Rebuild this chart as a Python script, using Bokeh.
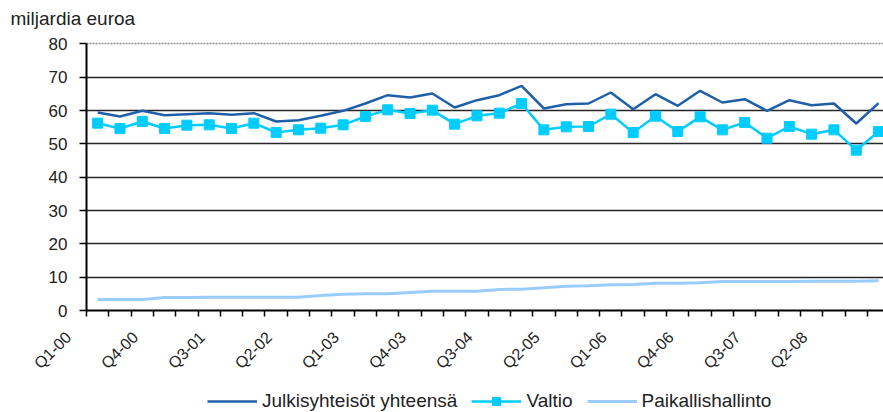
import math
from bokeh.plotting import figure
from bokeh.models import Range1d, FixedTicker, Legend, LegendItem, Grid, ColumnDataSource
from bokeh.embed import file_html
from bokeh.resources import INLINE

# ---- data -------------------------------------------------------------
quarters = ["Q1-00", "Q2-00", "Q3-00", "Q4-00", "Q1-01", "Q2-01", "Q3-01", "Q4-01",
            "Q1-02", "Q2-02", "Q3-02", "Q4-02", "Q1-03", "Q2-03", "Q3-03", "Q4-03",
            "Q1-04", "Q2-04", "Q3-04", "Q4-04", "Q1-05", "Q2-05", "Q3-05", "Q4-05",
            "Q1-06", "Q2-06", "Q3-06", "Q4-06", "Q1-07", "Q2-07", "Q3-07", "Q4-07",
            "Q1-08", "Q2-08", "Q3-08", "Q4-08"]
tick_labels = ["Q1-00", "Q4-00", "Q3-01", "Q2-02", "Q1-03", "Q4-03",
               "Q3-04", "Q2-05", "Q1-06", "Q4-06", "Q3-07", "Q2-08"]

julkisyhteisot = [59.4, 58.2, 59.9, 58.6, 58.9, 59.2, 58.7, 59.2, 56.7, 57.1, 58.4, 59.9,
                  62.1, 64.6, 63.9, 65.1, 60.9, 63.1, 64.6, 67.4, 60.6, 61.9, 62.1, 65.4,
                  60.4, 64.9, 61.4, 65.9, 62.4, 63.4, 59.9, 63.1, 61.6, 62.1, 56.1, 62.2]
valtio = [56.2, 54.6, 56.7, 54.6, 55.6, 55.7, 54.6, 56.2, 53.4, 54.2, 54.7, 55.7,
          58.2, 60.2, 59.1, 60.1, 55.9, 58.4, 59.2, 62.1, 54.2, 55.1, 55.2, 58.9,
          53.4, 58.3, 53.7, 58.1, 54.2, 56.4, 51.7, 55.2, 52.9, 54.2, 48.1, 53.7]
paikallishallinto = [3.3, 3.3, 3.3, 3.9, 3.9, 4.0, 4.0, 4.0, 4.0, 4.0, 4.5, 4.9,
                     5.0, 5.0, 5.4, 5.8, 5.8, 5.8, 6.3, 6.4, 6.8, 7.3, 7.4, 7.7,
                     7.8, 8.2, 8.2, 8.3, 8.7, 8.7, 8.7, 8.7, 8.8, 8.8, 8.8, 8.9]
y_ticks = [0, 10, 20, 30, 40, 50, 60, 70, 80]

# ---- derived positions ------------------------------------------------
xs = list(range(len(quarters)))
boundaries = [i - 0.5 for i in range(len(quarters) + 1)]
LABEL_SHIFT = 1.3125
label_pos = [quarters.index(t) - LABEL_SHIFT for t in tick_labels]
first_x, last_x = xs[0] - 0.5, xs[-1] + 1.0

src = ColumnDataSource(dict(x=xs, j=julkisyhteisot, v=valtio, p=paikallishallinto))

FONT = "Liberation Sans"
TXT = "#222222"

p = figure(width=883, height=412,
           x_range=Range1d(-3.458, 35.22), y_range=Range1d(-30.6, 84.0),
           output_backend="svg", toolbar_location=None,
           min_border_left=20, min_border_right=0, min_border_top=30, min_border_bottom=0)
p.outline_line_color = None

# title
p.title.text = "miljardia euroa"
p.title.align = "left"
p.title.offset = -10
p.title.text_font = FONT
p.title.text_font_size = "19px"
p.title.text_font_style = "normal"
p.title.text_color = TXT
p.title.standoff = 3

# grids
p.xgrid.visible = False
g = p.ygrid[0]
g.ticker = FixedTicker(ticks=y_ticks[1:-1])
g.cross_bounds = (first_x, last_x)
g.grid_line_color = "#262626"
g.grid_line_width = 1.7
g0 = Grid(dimension=1, ticker=FixedTicker(ticks=y_ticks[:1]), cross_bounds=(first_x, last_x),
          grid_line_color="black", grid_line_width=2)
g80 = Grid(dimension=1, ticker=FixedTicker(ticks=y_ticks[-1:]), cross_bounds=(first_x, last_x),
           grid_line_color="#8a8a8a", grid_line_width=1.5, grid_line_dash="2 1")
p.add_layout(g0, "center")
p.add_layout(g80, "center")

# y axis at the category boundary
ya = p.yaxis[0]
ya.fixed_location = first_x
ya.bounds = (y_ticks[0], y_ticks[-1])
ya.ticker = FixedTicker(ticks=y_ticks)
ya.major_tick_out = 7
ya.major_tick_in = 0
ya.minor_tick_out = 0
ya.minor_tick_in = 0
ya.major_tick_line_color = "black"
ya.major_tick_line_width = 1.5
ya.axis_line_color = "black"
ya.axis_line_width = 2
ya.major_label_standoff = 12
ya.major_label_text_font = FONT
ya.major_label_text_font_size = "17px"
ya.major_label_text_color = TXT

# x axis at y = 0: tick marks between categories, rotated labels
xa = p.xaxis[0]
xa.fixed_location = 0
xa.ticker = FixedTicker(ticks=label_pos, minor_ticks=boundaries)
xa.major_label_overrides = {pos: t for pos, t in zip(label_pos, tick_labels)}
xa.axis_line_color = None
xa.major_tick_line_color = None
xa.major_tick_out = 0
xa.major_tick_in = 0
xa.minor_tick_out = 6
xa.minor_tick_in = 0
xa.minor_tick_line_color = "black"
xa.minor_tick_line_width = 1.5
xa.major_label_orientation = math.pi / 4
xa.major_label_standoff = 18
xa.major_label_text_font = FONT
xa.major_label_text_font_size = "16px"
xa.major_label_text_color = TXT

# series
r_p = p.line("x", "p", source=src, line_color="#99CCFF", line_width=3)
r_j = p.line("x", "j", source=src, line_color="#1F5FA8", line_width=2.5)
r_v = p.line("x", "v", source=src, line_color="#00CCFF", line_width=2.5)
r_vm = p.scatter("x", "v", source=src, marker="square", size=10,
                 fill_color="#00CCFF", line_color="#00CCFF")

legend = Legend(items=[LegendItem(label="Julkisyhteisöt yhteensä", renderers=[r_j]),
                       LegendItem(label="Valtio", renderers=[r_v, r_vm]),
                       LegendItem(label="Paikallishallinto", renderers=[r_p])],
                location=(187, 0), orientation="horizontal",
                border_line_color=None, background_fill_alpha=0,
                padding=0, margin=0, spacing=14, glyph_width=50, label_standoff=5,
                label_text_font=FONT, label_text_font_size="19px", label_text_color=TXT)
p.add_layout(legend, "center")

open("out.html", "w").write(file_html(p, INLINE))
